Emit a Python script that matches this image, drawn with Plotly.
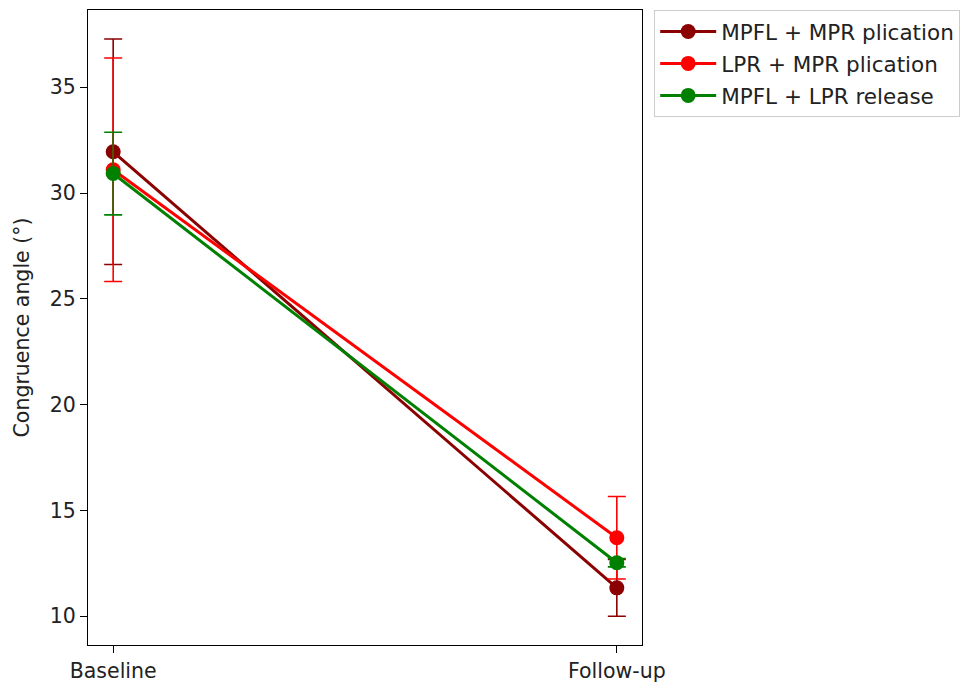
import plotly.graph_objects as go

timepoints = ["Baseline", "Follow-up"]
groups = ["MPFL + MPR plication", "LPR + MPR plication", "MPFL + LPR release"]
colors = ["#8B0000", "#FF0000", "#008000"]
means = [
    [31.95, 11.34],
    [31.1, 13.71],
    [30.92, 12.53],
]
sds = [
    [5.33, 1.34],
    [5.28, 1.95],
    [1.95, 0.2],
]
yticks = [10, 15, 20, 25, 30, 35]

fig = go.Figure()
for name, col, m, s in zip(groups, colors, means, sds):
    fig.add_trace(go.Scatter(
        x=timepoints, y=m, name=name, mode="lines+markers",
        legendgroup=name,
        line=dict(color=col, width=3),
        marker=dict(color=col, size=15),
        error_y=dict(type="data", array=s, visible=True, color=col,
                     thickness=1.6, width=9),
    ))

FS = 20.5
fig.update_layout(
    width=970, height=682,
    margin=dict(l=80, r=336, t=2, b=45),
    plot_bgcolor="white", paper_bgcolor="white",
    font=dict(family="DejaVu Sans", size=FS, color="#222"),
    showlegend=True,
    legend=dict(x=1.022, y=1.0, xanchor="left", yanchor="top",
                bordercolor="#cccccc", borderwidth=1,
                font=dict(size=21.5, family="DejaVu Sans", color="#222"),
                itemwidth=56, tracegroupgap=1),
)
fig.update_xaxes(
    range=[-0.05, 1.05], showline=True, linecolor="black", linewidth=1.2,
    mirror=True, ticks="outside", ticklen=7, tickcolor="black",
    showgrid=False, zeroline=False, tickfont=dict(size=FS),
)
fig.update_yaxes(
    range=[8.64, 38.65], tickvals=yticks, showline=True, linecolor="black",
    linewidth=1.2, mirror=True, ticks="outside", ticklen=7, tickcolor="black",
    showgrid=False, zeroline=False, tickfont=dict(size=FS),
    title=dict(text="Congruence angle (°)", font=dict(size=FS), standoff=14),
)

fig.write_html("out.html")
